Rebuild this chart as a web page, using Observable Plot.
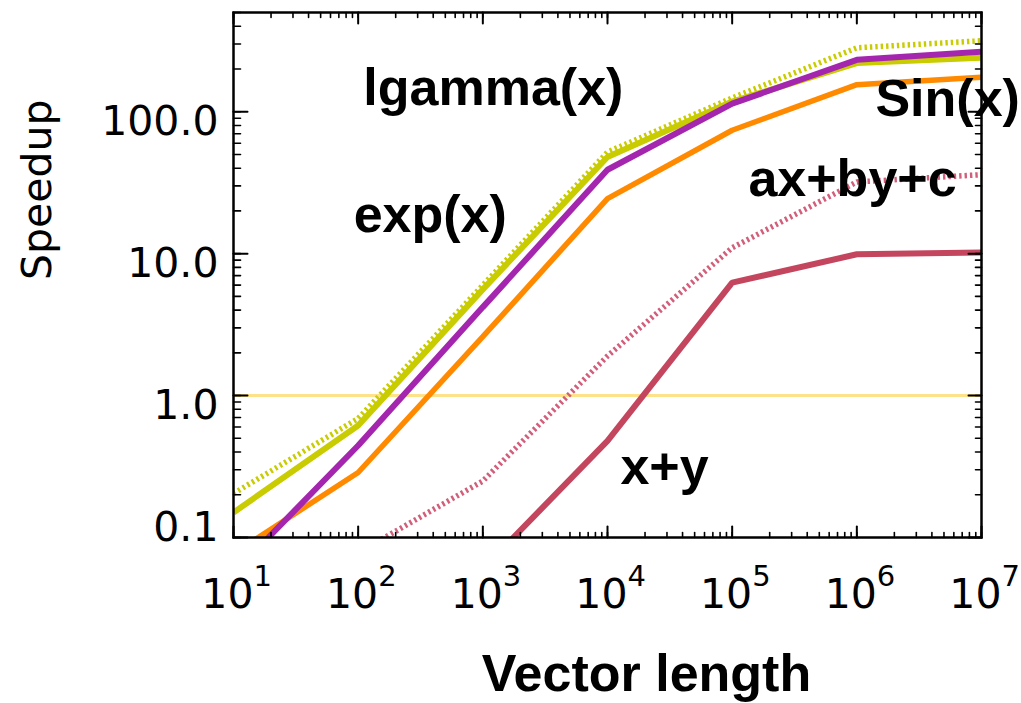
<!DOCTYPE html>
<html>
<head>
<meta charset="utf-8">
<script src="https://cdn.jsdelivr.net/npm/d3@7"></script>
<script src="https://cdn.jsdelivr.net/npm/@observablehq/plot@0.6"></script>
<style>
  html, body { margin: 0; padding: 0; background: #fff; }
  #chart svg { display: block; }
</style>
</head>
<body>
<div id="chart"></div>
<script>
// ---- data ----
const vectorLengths = [10, 100, 1e3, 1e4, 1e5, 1e6, 1e7];

const lgammaDotted = [0.204, 0.69, 6.0, 52, 125, 282, 316];
const yellowSolid  = [0.15, 0.615, 5.6, 48, 118, 220, 240];
const purpleSolid  = [0.056, 0.445, 4.2, 39, 114, 232, 265];
const orangeSolid  = [0.077, 0.287, 2.6, 24.4, 74, 155, 175];
const pinkDotted   = [null, 0.078, 0.25, 1.9, 11, 32, 36];
const redSolid     = [null, null, 0.06, 0.48, 6.25, 9.9, 10.2];

const seriesIds = ["pinkDotted", "redSolid", "orangeSolid", "yellowSolid", "lgammaDotted", "purpleSolid"];
const seriesValues = {pinkDotted, redSolid, orangeSolid, yellowSolid, lgammaDotted, purpleSolid};

const xTickValues = [10, 100, 1e3, 1e4, 1e5, 1e6, 1e7];
const xTickBase = ["10", "10", "10", "10", "10", "10", "10"];
const xTickExponents = ["1", "2", "3", "4", "5", "6", "7"];
const yTickValues = [1, 10, 100];
const yTickLabels = ["1.0", "10.0", "100.0"];
const yBottomTickValues = [0.1];
const yBottomTickLabels = ["0.1"];

const labelTexts = ["lgamma(x)", "exp(x)", "Sin(x)", "ax+by+c", "x+y"];
const labelX = [110, 92, 1.41e6, 1.35e5, 12700];
const labelY = [112, 14.3, 93.7, 25.6, 0.24];

// ---- styles ----
const styles = {
  pinkDotted:   {stroke: "#d25e7a", strokeWidth: 5.5, dash: "2.4,3"},
  redSolid:     {stroke: "#c4465e", strokeWidth: 6, dash: null},
  orangeSolid:  {stroke: "#ff8a00", strokeWidth: 5.5, dash: null},
  yellowSolid:  {stroke: "#c8cc00", strokeWidth: 6, dash: null},
  lgammaDotted: {stroke: "#c8cc00", strokeWidth: 5.5, dash: "2.4,3"},
  purpleSolid:  {stroke: "#a526ae", strokeWidth: 6, dash: null}
};

const xDomain = [10, 1e7];
const yDomain = [0.1, 500];

const xTicksAll = d3.scaleLog().domain(xDomain).ticks();
const yTicksAll = d3.scaleLog().domain(yDomain).ticks();

const tickShape = {draw(ctx, l) { ctx.moveTo(0, 0); ctx.lineTo(0, -l); }};
function ticks(values, channel, frameAnchor, rotate, length, sw) {
  return Plot.vector(values, {
    [channel]: d => d, frameAnchor, rotate, length, anchor: "start",
    shape: tickShape, stroke: "black", strokeWidth: sw
  });
}

const lineMarks = seriesIds.map(id => {
  const rows = vectorLengths
    .map((x, i) => ({x, y: seriesValues[id][i]}))
    .filter(d => d.y != null);
  const s = styles[id];
  return Plot.line(rows, {
    x: "x", y: "y", stroke: s.stroke, strokeWidth: s.strokeWidth,
    strokeDasharray: s.dash, strokeLinejoin: "miter", strokeLinecap: "butt", clip: true
  });
});

const tickFont = "DejaVu Sans, sans-serif";
const boldFont = "Liberation Sans, Arial, Helvetica, sans-serif";

const chart = Plot.plot({
  width: 1021,
  height: 703,
  marginLeft: 233,
  marginRight: 40,
  marginTop: 12,
  marginBottom: 166,
  x: {type: "log", domain: xDomain, axis: null},
  y: {type: "log", domain: yDomain, axis: null},
  marks: [
    Plot.ruleY([1], {stroke: "#fee28a", strokeWidth: 3}),
    ...lineMarks,
    // minor ticks
    ticks(xTicksAll, "x", "bottom", 0, 5, 1.6),
    ticks(xTicksAll, "x", "top", 180, 5, 1.6),
    ticks(yTicksAll, "y", "left", 90, 7, 1.6),
    ticks(yTicksAll, "y", "right", -90, 6, 1.6),
    // major ticks
    ticks(xTickValues, "x", "bottom", 0, 11, 2),
    ticks(xTickValues, "x", "top", 180, 11, 2),
    ticks([...yBottomTickValues, ...yTickValues], "y", "left", 90, 14, 2),
    ticks([...yBottomTickValues, ...yTickValues], "y", "right", -90, 13, 2),
    Plot.frame({stroke: "black", strokeWidth: 2.5}),
    // x tick labels: base and exponent
    Plot.text(xTickValues, {
      x: d => d, frameAnchor: "bottom", text: (d, i) => xTickBase[i],
      textAnchor: "end", lineAnchor: "bottom", dy: 70, dx: 20, fontSize: 41, fontFamily: tickFont, fill: "black"
    }),
    Plot.text(xTickValues, {
      x: d => d, frameAnchor: "bottom", text: (d, i) => xTickExponents[i],
      textAnchor: "start", lineAnchor: "bottom", dy: 48, dx: 20, fontSize: 29, fontFamily: tickFont, fill: "black"
    }),
    // y tick labels
    Plot.text(yTickValues, {
      y: d => d, frameAnchor: "left", text: (d, i) => yTickLabels[i],
      textAnchor: "end", lineAnchor: "bottom", dx: -15, dy: 23, fontSize: 41, fontFamily: tickFont, fill: "black"
    }),
    Plot.text(yBottomTickValues, {
      y: d => d, frameAnchor: "left", text: (d, i) => yBottomTickLabels[i],
      textAnchor: "end", lineAnchor: "bottom", dx: -15, dy: 3, fontSize: 41, fontFamily: tickFont, fill: "black"
    }),
    // axis titles
    Plot.text(["Speedup"], {
      text: d => d, frameAnchor: "left", rotate: -90, dx: -196, dy: 5,
      lineAnchor: "middle", fontSize: 41, fontFamily: tickFont, fill: "black"
    }),
    Plot.text(["Vector length"], {
      text: d => d, frameAnchor: "bottom", dx: 39, dy: 153,
      lineAnchor: "bottom", fontSize: 52, fontWeight: "bold", fontFamily: boldFont, fill: "black"
    }),
    // series annotations
    Plot.text(labelTexts, {
      x: (d, i) => labelX[i], y: (d, i) => labelY[i], text: d => d,
      textAnchor: "start", lineAnchor: "bottom",
      fontSize: 52, fontWeight: "bold", fontFamily: boldFont, fill: "black"
    })
  ]
});

document.getElementById("chart").appendChild(chart);
</script>
</body>
</html>
